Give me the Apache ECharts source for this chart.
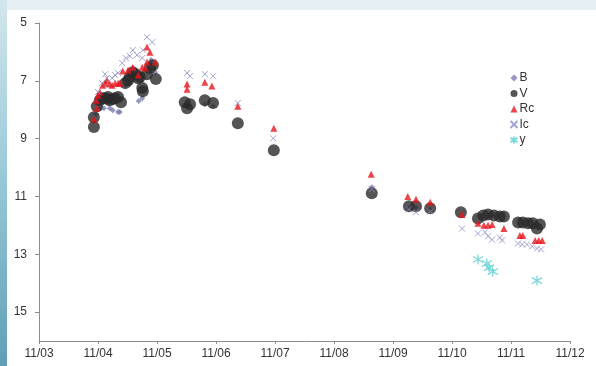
<!DOCTYPE html>
<html>
<head>
<meta charset="utf-8">
<script src="https://cdn.jsdelivr.net/npm/echarts@6/dist/echarts.min.js"></script>
<style>
  html, body { margin: 0; padding: 0; }
  body { width: 596px; height: 366px; position: relative; overflow: hidden;
         background: linear-gradient(to bottom, #e6eff3, #dce9ee); }
  #strip { position: absolute; left: 0; top: 0; width: 7px; height: 366px;
           background: linear-gradient(to bottom, #d3e6ec, #9ccbd9 45%, #5f9fb6); }
  #panel { position: absolute; left: 7px; top: 10px; right: 0; bottom: 0;
           background: #ffffff; border-top-left-radius: 4px; }
  #chart { position: absolute; left: 0; top: 0; width: 596px; height: 366px; }
</style>
</head>
<body>
<div id="strip"></div>
<div id="panel"></div>
<div id="chart"></div>
<script>
// Light curve, 2011/03 - 2011/12. x = months since 2011/03, y = magnitude.
const monthLabels = ['11/03', '11/04', '11/05', '11/06', '11/07', '11/08', '11/09', '11/10', '11/11', '11/12'];
const magTicks = [5, 7, 9, 11, 13, 15];

const bandB = [
  [0.97, 8.15], [1.05, 7.95], [1.10, 7.95], [1.17, 7.77], [1.20, 7.95], [1.25, 8.02],
  [1.34, 8.08], [1.37, 8.08], [1.47, 7.15], [1.54, 7.11], [1.69, 7.70], [1.75, 7.60],
  [1.90, 6.28], [1.97, 6.70], [2.53, 7.88], [2.81, 7.81], [2.95, 7.88],
  [5.64, 10.68], [6.27, 11.41], [6.39, 11.38], [6.63, 11.45]
];
const bandV = [
  [0.93, 8.60], [0.93, 8.26], [0.98, 7.88], [1.03, 7.67], [1.07, 7.60], [1.12, 7.60],
  [1.17, 7.56], [1.20, 7.67], [1.25, 7.63], [1.29, 7.60], [1.34, 7.56], [1.39, 7.74],
  [1.46, 7.08], [1.51, 6.98], [1.54, 6.87], [1.59, 6.70], [1.64, 6.77], [1.68, 6.91],
  [1.71, 6.87], [1.75, 7.25], [1.76, 7.36], [1.83, 6.77], [1.88, 6.56], [1.93, 6.46],
  [1.98, 6.94], [2.47, 7.74], [2.51, 7.95], [2.56, 7.81], [2.81, 7.67], [2.95, 7.77],
  [3.37, 8.47], [3.98, 9.40], [5.64, 10.89], [6.27, 11.34], [6.39, 11.34], [6.63, 11.41],
  [7.15, 11.55], [7.44, 11.76], [7.53, 11.66], [7.61, 11.62], [7.71, 11.66], [7.81, 11.69],
  [7.88, 11.69], [8.12, 11.90], [8.20, 11.90], [8.29, 11.93], [8.37, 11.93], [8.44, 12.11],
  [8.49, 11.97]
];
const bandRc = [
  [0.93, 8.33], [0.97, 7.67], [0.98, 7.95], [1.00, 7.50], [1.03, 7.39], [1.08, 7.15],
  [1.12, 7.08], [1.15, 6.98], [1.20, 7.11], [1.24, 7.15], [1.29, 7.08], [1.34, 7.08],
  [1.37, 7.08], [1.42, 6.66], [1.51, 6.63], [1.59, 6.53], [1.68, 6.80], [1.75, 6.53],
  [1.80, 6.56], [1.83, 6.35], [1.83, 5.83], [1.88, 6.01], [1.97, 6.35],
  [2.51, 7.11], [2.51, 7.29], [2.81, 7.05], [2.93, 7.18], [3.37, 7.88], [3.98, 8.64],
  [5.63, 10.23], [6.25, 11.00], [6.39, 11.10], [6.63, 11.20], [7.17, 11.62],
  [7.44, 11.93], [7.54, 12.00], [7.61, 12.00], [7.68, 11.97], [7.88, 12.11],
  [8.15, 12.35], [8.20, 12.35], [8.41, 12.52], [8.47, 12.52], [8.53, 12.52]
];
const bandIc = [
  [1.00, 7.39], [1.07, 7.08], [1.12, 6.77], [1.15, 6.91], [1.24, 6.91], [1.29, 6.80],
  [1.34, 6.73], [1.41, 6.39], [1.47, 6.21], [1.54, 6.14], [1.59, 5.94], [1.66, 6.11],
  [1.75, 6.21], [1.76, 5.94], [1.83, 5.49], [1.92, 5.66], [2.51, 6.73], [2.56, 6.84],
  [2.81, 6.77], [2.95, 6.84], [3.37, 7.77], [3.97, 8.99], [5.64, 10.75],
  [6.27, 11.45], [6.39, 11.55], [6.63, 11.52], [7.17, 12.11], [7.44, 12.28],
  [7.56, 12.24], [7.61, 12.38], [7.68, 12.49], [7.81, 12.42], [7.85, 12.52],
  [8.12, 12.63], [8.19, 12.66], [8.27, 12.66], [8.36, 12.73], [8.44, 12.80], [8.51, 12.83]
];
const bandY = [
  [7.44, 13.18], [7.59, 13.32], [7.63, 13.46], [7.69, 13.60], [8.44, 13.91]
];

const crossPath = 'path://M0,0L10,10M10,0L0,10';
const starPath = 'path://M5,0L5,10M0,2L10,8M10,2L0,8';
const font = 'Liberation Sans, Arial, sans-serif';

const chart = echarts.init(document.getElementById('chart'), null, { renderer: 'canvas' });
chart.setOption({
  backgroundColor: 'transparent',
  animation: false,
  grid: { left: 39, right: 26, top: 23, bottom: 25 },
  legend: {
    orient: 'vertical', left: 503, top: 67,
    itemWidth: 7, itemHeight: 7, itemGap: 3.5,
    textStyle: { fontFamily: font, fontSize: 12, color: '#333', padding: [0, 0, 0, -3] },
    data: ['B', 'V', 'Rc', 'Ic', 'y']
  },
  xAxis: {
    type: 'value', min: 0, max: 9, interval: 1,
    axisLine: { lineStyle: { color: '#8c8c8c' } },
    axisTick: { show: true, length: 3, lineStyle: { color: '#8c8c8c' } },
    axisLabel: { color: '#333', fontFamily: font, fontSize: 12, margin: 7,
                 formatter: v => monthLabels[Math.round(v)] },
    splitLine: { show: false }
  },
  yAxis: {
    type: 'value', inverse: true, min: 5, max: 16,
    axisLine: { show: true, lineStyle: { color: '#8c8c8c' } },
    axisTick: { show: true, length: 4, customValues: magTicks, lineStyle: { color: '#8c8c8c' } },
    axisLabel: { color: '#333', fontFamily: font, fontSize: 12, margin: 12, customValues: magTicks },
    splitLine: { show: false }
  },
  series: [
    { name: 'B', type: 'scatter', data: bandB, symbol: 'diamond', symbolSize: 6,
      itemStyle: { color: '#7d7db3' } },
    { name: 'V', type: 'scatter', data: bandV, symbol: 'circle', symbolSize: 12,
      itemStyle: { color: '#2a2a2a' } },
    { name: 'Rc', type: 'scatter', data: bandRc, symbol: 'triangle', symbolSize: 7,
      itemStyle: { color: '#e8151b' } },
    { name: 'Ic', type: 'scatter', data: bandIc, symbol: crossPath, symbolSize: 6,
      itemStyle: { color: 'none', borderColor: '#8b8dc0', borderWidth: 1 } },
    { name: 'y', type: 'scatter', data: bandY, symbol: starPath, symbolSize: 10,
      itemStyle: { color: 'none', borderColor: '#5ccfd2', borderWidth: 1.3 } }
  ]
});
</script>
</body>
</html>
